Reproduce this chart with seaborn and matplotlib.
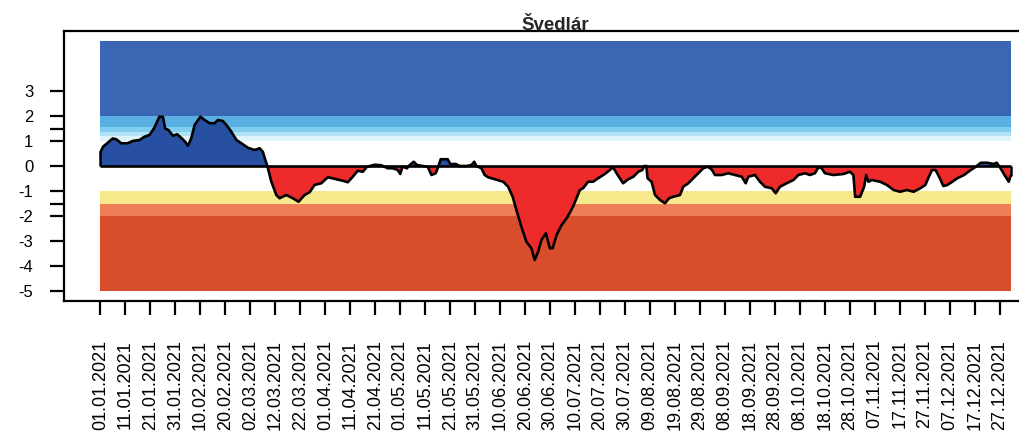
import numpy as np
import pandas as pd
import matplotlib
matplotlib.use("Agg")
import matplotlib.pyplot as plt
import seaborn as sns

# ---------------- data ----------------
title = "Švedlár"
day = [0.0, 1.0, 4.9, 6.3, 8.3, 10.9, 12.9, 15.6, 17.6, 19.6, 21.4, 23.6, 25.0, 25.9,
       27.2, 29.0, 30.7, 32.6, 33.9, 35.0, 36.3, 37.7, 40.0, 41.7, 43.7, 45.7, 47.0,
       49.0, 50.4, 52.4, 54.4, 56.4, 59.0, 61.7, 63.7, 65.0, 66.0, 66.8, 68.4, 70.4,
       71.7, 74.4, 77.0, 79.3, 81.7, 83.7, 85.7, 88.4, 91.0, 94.4, 97.0, 99.0, 101.0,
       103.0, 105.0, 106.7, 109.8, 112.4, 115.0, 117.0, 119.0, 120.0, 120.9, 122.7,
       123.8, 125.4, 126.7, 129.0, 131.0, 132.5, 134.2, 135.0, 136.2, 139.0, 140.0,
       142.2, 143.8, 146.5, 148.5, 149.6, 150.5, 152.5, 153.8, 155.2, 157.8, 161.2,
       163.2, 165.0, 166.5, 168.5, 170.5, 172.5, 173.8, 175.2, 176.5, 178.3, 179.9,
       181.0, 182.6, 184.6, 186.6, 188.0, 189.5, 191.9, 193.2, 195.2, 197.2, 199.2,
       201.9, 203.9, 205.2, 206.6, 207.9, 209.2, 211.3, 213.3, 215.3, 216.9, 217.7,
       218.5, 219.0, 220.6, 222.0, 224.0, 226.0, 227.6, 229.3, 232.0, 233.3, 235.3,
       237.3, 239.3, 241.3, 243.0, 244.6, 246.0, 248.7, 251.3, 254.0, 256.7, 258.3,
       259.3, 262.0, 264.0, 266.0, 268.7, 270.3, 272.0, 274.7, 277.4, 279.4, 282.0,
       284.0, 286.0, 287.4, 288.7, 290.0, 293.4, 297.4, 300.0, 301.4, 302.1, 304.1,
       305.7, 306.5, 307.4, 308.8, 312.1, 314.8, 317.5, 320.1, 322.8, 325.5, 328.2,
       330.2, 331.6, 332.9, 334.3, 336.0, 337.4, 339.0, 341.0, 343.0, 345.7, 348.4,
       350.4, 352.4, 355.0, 357.5, 358.8, 360.3, 361.9, 363.6, 364.3]
spei = [0.55, 0.77, 1.10, 1.07, 0.91, 0.91, 1.00, 1.04, 1.17, 1.24, 1.50, 1.97, 1.97, 1.50,
        1.44, 1.21, 1.27, 1.10, 0.97, 0.81, 1.10, 1.64, 1.97, 1.84, 1.71, 1.71, 1.84,
        1.80, 1.64, 1.37, 1.04, 0.91, 0.73, 0.64, 0.71, 0.57, 0.24, 0.00, -0.63, -1.16,
        -1.29, -1.16, -1.29, -1.43, -1.16, -1.05, -0.76, -0.69, -0.45, -0.53, -0.59, -0.65, -0.43,
        -0.19, -0.23, -0.03, 0.05, 0.03, -0.09, -0.09, -0.16, -0.32, -0.03, -0.09,
        0.04, 0.17, 0.04, 0.00, -0.03, -0.36, -0.29, -0.09, 0.27, 0.27, 0.08,
        0.08, 0.00, 0.00, 0.04, 0.17, 0.00, -0.09, -0.36, -0.45, -0.53, -0.63,
        -0.83, -1.23, -1.76, -2.43, -3.03, -3.29, -3.76, -3.43, -2.96, -2.69, -3.29,
        -3.29, -2.76, -2.36, -2.09, -1.85, -1.55, -0.96, -0.89, -0.63, -0.63, -0.49,
        -0.32, -0.16, -0.05, -0.29, -0.49, -0.69, -0.53, -0.43, -0.23, -0.16, 0.00,
        0.00, -0.49, -0.63, -1.16, -1.36, -1.49, -1.29, -1.23, -1.16, -0.83, -0.69,
        -0.49, -0.29, -0.09, -0.03, -0.13, -0.36, -0.36, -0.29, -0.36, -0.43, -0.69,
        -0.43, -0.36, -0.63, -0.83, -0.89, -1.09, -0.83, -0.69, -0.56, -0.36, -0.29,
        -0.36, -0.29, -0.05, -0.09, -0.29, -0.36, -0.32, -0.23, -0.36, -1.23, -1.23,
        -0.83, -0.36, -0.63, -0.56, -0.63, -0.76, -0.96, -1.03, -0.96, -1.03, -0.89,
        -0.76, -0.43, -0.16, -0.16, -0.49, -0.80, -0.76, -0.63, -0.49, -0.36, -0.16,
        -0.03, 0.13, 0.13, 0.08, 0.13, -0.09, -0.36, -0.63, -0.40]

# class bands (lower, upper) and their colours
band_lo = [2.0, 1.55, 1.35, 1.2, 1.0, -1.5, -2.0, -5.0]
band_hi = [5.0, 2.0, 1.55, 1.35, 1.2, -1.0, -1.5, -2.0]
band_col = ["#3b66b3", "#5aafe2", "#80cdef", "#aee2f4", "#def3fa",
            "#f6e98b", "#ef7d58", "#d84d2c"]

ytick_vals = [3, 2, 1.5, 1, 0, -1, -1.5, -2, -3, -4, -5]
ytick_labels = ["3", "2", "", "1", "0", "-1", "", "-2", "-3", "-4", "-5"]
tick_step_days = 10

# ---------------- figure ----------------
sns.set_style("white")
plt.rcParams["font.family"] = ["Liberation Sans", "DejaVu Sans"]

start = pd.Timestamp("2021-01-01")
dates = start + pd.to_timedelta(day, unit="D")
df = pd.DataFrame({"date": dates, "spei": spei})

fig = plt.figure(figsize=(10.19, 4.48), dpi=100)
ax = fig.add_axes([64 / 1019, 147 / 448, 983 / 1019, 270 / 448])

x0, x1 = df["date"].min(), df["date"].max()
for lo, hi, c in zip(band_lo, band_hi, band_col):
    ax.fill_between([x0, x1], lo, hi, color=c, lw=0, zorder=1)

ax.fill_between(df["date"], df["spei"], 0, where=df["spei"] >= 0,
                interpolate=True, color="#2750a2", lw=0, zorder=2)
ax.fill_between(df["date"], df["spei"], 0, where=df["spei"] <= 0,
                interpolate=True, color="#ee2b2a", lw=0, zorder=2)
ax.hlines(0, x0, x1, color="black", lw=1.9, zorder=3)
ax.vlines([x0, x1], 0, [df["spei"].iloc[0], df["spei"].iloc[-1]],
          color="black", lw=1.8, zorder=3)
sns.lineplot(data=df, x="date", y="spei", color="black", lw=1.9, ax=ax,
             zorder=4, estimator=None, sort=False)

margin = pd.Timedelta(days=14.6)
ax.set_xlim(x0 - margin, x1 + margin)
ax.set_ylim(-5.4, 5.4)

xt = pd.date_range(start, x1, freq=f"{tick_step_days}D")
ax.set_xticks(xt)
ax.set_xticklabels([d.strftime("%d.%m.%Y") for d in xt], rotation=90, fontsize=13)
ax.set_yticks(ytick_vals)
ax.set_yticklabels(ytick_labels, fontsize=12)
ax.tick_params(axis="x", direction="out", length=10, width=1.6, pad=18,
               bottom=True, colors="black")
ax.tick_params(axis="y", direction="out", length=10, width=1.6, pad=12,
               left=True, colors="black")
ax.set_xlabel("")
ax.set_ylabel("")
for s in ax.spines.values():
    s.set_color("black")
    s.set_linewidth(1.6)
ax.set_title(title, fontweight="bold", fontsize=13.5, pad=1)

fig.savefig("out.png", dpi=100)
